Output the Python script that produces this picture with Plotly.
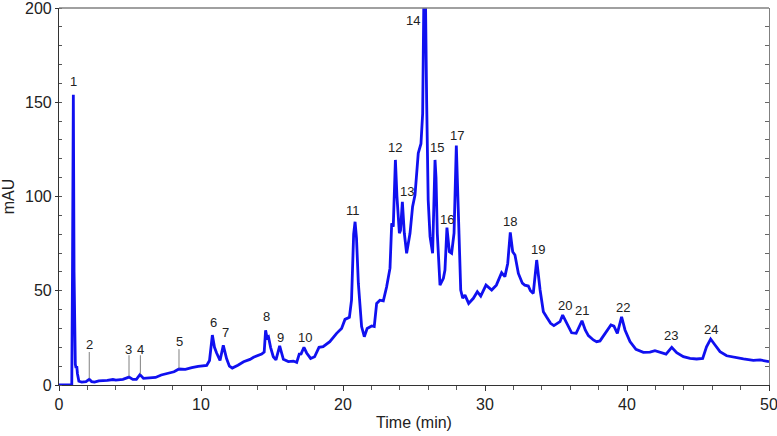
import plotly.graph_objects as go

time_min = [0, 0.9, 0.95, 1.01, 1.06, 1.1, 1.15, 1.2, 1.25, 1.3, 1.4, 1.6, 1.9, 2.13, 2.3, 2.5, 2.8, 3.4, 3.8, 4.0,
            4.5, 4.93, 5.2, 5.45, 5.7, 5.95, 6.3, 6.8, 7.2, 7.7, 8.1, 8.45, 8.9, 9.35, 9.8, 10.4, 10.6, 10.8, 10.95, 11.1,
            11.34, 11.57, 11.8, 12.0, 12.2, 12.6, 12.8, 13.0, 13.45, 13.7, 14.27, 14.45, 14.55, 14.65, 14.75, 14.9, 15.09, 15.28, 15.54, 15.8,
            16.15, 16.5, 16.74, 16.92, 17.05, 17.25, 17.44, 17.72, 18.0, 18.31, 18.6, 19.07, 19.55, 19.9, 20.14, 20.45, 20.6, 20.75, 20.85, 20.95,
            21.08, 21.31, 21.5, 21.7, 22.02, 22.2, 22.37, 22.6, 22.84, 23.07, 23.31, 23.43, 23.54, 23.69, 23.8, 23.97, 24.05, 24.18, 24.32, 24.48,
            24.72, 24.9, 25.07, 25.3, 25.49, 25.61, 25.7, 25.8, 25.89, 26.0, 26.13, 26.31, 26.48, 26.55, 26.64, 26.83, 27.07, 27.18, 27.32, 27.49,
            27.65, 27.82, 27.98, 28.15, 28.29, 28.43, 28.59, 28.85, 29.18, 29.46, 29.7, 30.07, 30.23, 30.47, 30.8, 31.17, 31.4, 31.6, 31.78, 31.95,
            32.11, 32.35, 32.63, 32.8, 33.05, 33.2, 33.4, 33.64, 33.88, 34.11, 34.35, 34.62, 34.85, 35.28, 35.47, 35.75, 36.1, 36.42, 36.83, 37.06,
            37.28, 37.63, 37.86, 38.1, 38.57, 38.87, 39.08, 39.32, 39.62, 39.86, 40.21, 40.63, 41.15, 41.62, 41.97, 42.32, 42.75, 43.15, 43.5, 43.97,
            44.44, 44.9, 45.33, 45.6, 45.89, 46.2, 46.55, 47.02, 47.49, 48.2, 48.9, 49.37, 50]
mau = [0, 0, 60, 154, 60, 14, 11, 9, 10, 6, 2, 1.5, 1.8, 3, 1.8, 1.5, 2.2, 2.4, 2.9, 2.6,
       3, 4.2, 3, 3, 5.5, 3.5, 3.6, 4, 5.3, 6.4, 7, 8.5, 8.3, 9.2, 9.9, 10.4, 13, 26.5, 20, 17,
       13, 21, 14, 10, 9, 10.5, 11.5, 12.3, 13.6, 14.7, 16.4, 17.5, 29, 25, 25.6, 20, 15, 13.3, 20.7, 13.6,
       12.4, 12.7, 12, 16.4, 16.5, 20, 17, 14.1, 15, 20, 20.3, 23, 27.4, 30, 34.8, 35.9, 45, 80, 86.6, 78,
       54, 31, 25.6, 30, 31.3, 31, 43.3, 45, 44.6, 52, 62, 85.8, 84, 119.4, 100, 80.5, 82, 97.2, 80.5, 69.9,
       80.5, 94.6, 100.8, 123, 128, 144, 210, 210, 151, 98, 78.7, 69.9, 119.4, 110, 80.5, 53, 56.6, 61, 83.5, 70.7,
       69.9, 80.5, 127, 80.5, 50.4, 46, 47.7, 43.3, 46, 49.5, 47.2, 53, 51.8, 50.4, 53, 59.6, 57.5, 64.5, 81, 70.7,
       69, 59.2, 54, 53, 52.5, 50, 48.6, 66.3, 50.4, 38.9, 35.9, 32.7, 31.5, 33.6, 37.1, 32.7, 27.7, 27.4, 34.1, 29.2,
       26.2, 23.9, 23, 23.4, 28.3, 31.8, 31.2, 27.4, 36.2, 29.2, 23, 18.9, 17.3, 17.4, 18.2, 17.4, 16.4, 20, 17.1, 15,
       14.1, 13.8, 14.1, 20.3, 24.4, 21.2, 17.7, 15.5, 14.7, 13.8, 13.1, 13.3, 12.4]

peak_labels = [str(i) for i in range(1, 25)]
label_t = [0.99, 2.13, 4.9, 5.73, 8.5, 10.87, 11.76, 14.62, 15.61, 17.32, 20.73, 23.66, 24.53, 24.95, 26.62, 27.3,
           28.0, 31.76, 33.75, 35.63, 36.85, 39.7, 43.1, 45.89]
label_v = [161, 21.6, 18.9, 18.6, 23.2, 33, 27.7, 36.6, 25.3, 25.3, 92.5, 125.9, 102.5, 193.6, 125.9, 87.9,
           132.3, 86.6, 72.1, 42.4, 39.4, 41.2, 26, 29.7]

leader_t = [2.13, 4.93, 5.73, 8.45]
leader_v0 = [3.5, 4.6, 5.8, 8.8]
leader_v1 = [17.5, 15.8, 15.8, 19.0]

x_ticks = [0, 10, 20, 30, 40, 50]
y_ticks = [0, 50, 100, 150, 200]

FONT = "Liberation Sans"

fig = go.Figure()
fig.add_trace(go.Scatter(x=time_min, y=mau, mode="lines",
                         line=dict(color="#1010f0", width=2.8), showlegend=False, hoverinfo="skip"))
# dummy trace for right axis
fig.add_trace(go.Scatter(x=[None], y=[None], yaxis="y2", showlegend=False))

for lab, t, v in zip(peak_labels, label_t, label_v):
    fig.add_annotation(x=t, y=v, text=lab, showarrow=False, xanchor="center", yanchor="middle",
                       font=dict(family=FONT, size=13, color="#222222"))

for t, v0, v1 in zip(leader_t, leader_v0, leader_v1):
    fig.add_shape(type="line", x0=t, x1=t, y0=v0, y1=v1, xref="x", yref="y",
                  line=dict(color="#808080", width=1))

# top border
fig.add_shape(type="line", x0=0, x1=1, y0=1, y1=1, xref="paper", yref="paper",
              line=dict(color="#808080", width=1.5))

fig.update_layout(
    width=777, height=436,
    margin=dict(l=59, r=8, t=8, b=51, autoexpand=False),
    paper_bgcolor="white", plot_bgcolor="white",
    font=dict(family=FONT, size=16, color="#222222"),
    xaxis=dict(range=[0, 50], tickvals=x_ticks, ticks="outside", ticklen=5, tickcolor="#333333",
               showline=True, linecolor="#333333", linewidth=1.2, showgrid=False, zeroline=False,
               minor=dict(dtick=2, ticks="outside", ticklen=3.5, tickcolor="#555555"),
               title=dict(text="Time (min)", standoff=4, font=dict(size=16)),
               tickfont=dict(size=16), automargin=False, ticklabeloverflow="allow"),
    yaxis=dict(range=[0, 200], tickvals=y_ticks, ticks="outside", ticklen=3, tickcolor="#333333",
               showline=True, linecolor="#333333", linewidth=1.2, showgrid=False, zeroline=False,
               minor=dict(dtick=10, ticks="inside", ticklen=3, tickcolor="#555555"),
               title=dict(text="mAU", standoff=6, font=dict(size=16)),
               tickfont=dict(size=16), automargin=False, ticklabeloverflow="allow"),
    yaxis2=dict(range=[0, 200], overlaying="y", side="right", dtick=10, ticks="inside", ticklen=4,
                tickcolor="#666666", showticklabels=False, showline=True, linecolor="#808080",
                linewidth=1.2, showgrid=False, zeroline=False, automargin=False),
)

fig.write_html("out.html", config={"displayModeBar": False},
               post_script="document.body.style.margin='0';document.body.style.overflow='hidden';")
